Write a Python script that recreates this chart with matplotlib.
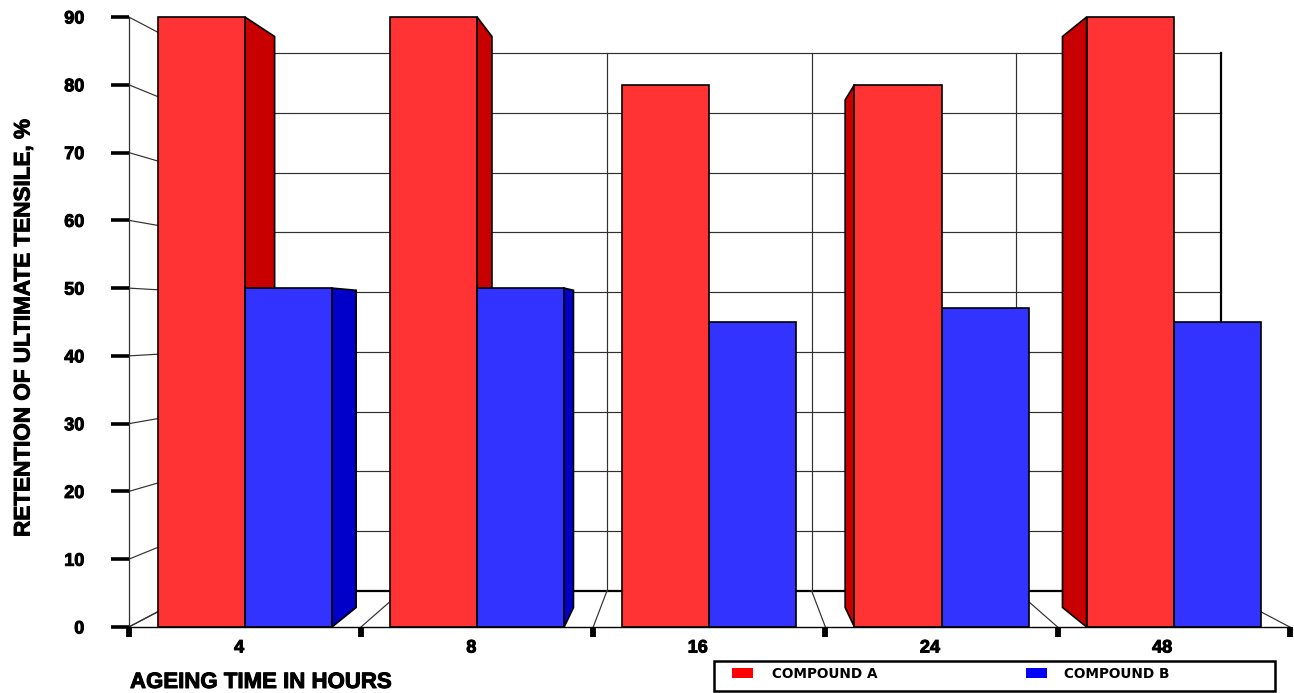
import matplotlib
matplotlib.use('Agg')
import matplotlib.pyplot as plt
import matplotlib.patheffects as pe
from matplotlib.patches import Polygon, Rectangle

# 老化后的拉伸强度保持率
hours = ['4', '8', '16', '24', '48']
compound_a = [90, 90, 80, 80, 90]
compound_b = [50, 50, 45, 47, 45]
y_ticks = [0, 10, 20, 30, 40, 50, 60, 70, 80, 90]

RED, RED_SIDE = '#FF3333', '#C80000'
BLUE, BLUE_SIDE = '#3333FF', '#0000C8'
BAR_W = 0.375
WALL_SCALE = 0.881  # back wall size relative to front plane
BAR_SCALE = 0.936   # back of the bars
W, H = 1294, 693

heavy = [pe.withStroke(linewidth=0.7, foreground='black')]


# 透视投影，消失点在图的中心
def project(x, v, scale):
    cx = len(hours) / 2
    cv = max(y_ticks) / 2
    return cx + (x - cx) * scale, cv + (v - cv) * scale


def draw_side(ax, edge, value, color):
    x0, v0 = project(edge, 0, BAR_SCALE)
    x1, v1 = project(edge, value, BAR_SCALE)
    ax.add_patch(Polygon([(edge, 0), (x0, v0), (x1, v1), (edge, value)], closed=True,
                         facecolor=color, edgecolor='black', linewidth=1.2, zorder=3,
                         clip_on=False))


def draw_walls(ax):
    n = len(hours)
    top = max(y_ticks)
    grid = dict(color='#303030', linewidth=0.85, zorder=1, clip_on=False)
    for v in y_ticks:
        bx0, bv = project(0, v, WALL_SCALE)
        bx1, _ = project(n, v, WALL_SCALE)
        ax.plot([0, bx0], [v, bv], **grid)
        if v == 0:
            ax.plot([bx0, bx1], [bv, bv], color='black', linewidth=1.6, zorder=1, clip_on=False)
        else:
            ax.plot([bx0, bx1], [bv, bv], **grid)
    for i in range(n + 1):
        bx, bv0 = project(i, 0, WALL_SCALE)
        _, bv1 = project(i, top, WALL_SCALE)
        ax.plot([i, bx], [0, bv0], **grid)
        if i == n:
            ax.plot([bx, bx], [bv0, bv1], color='black', linewidth=1.6, zorder=1, clip_on=False)
        else:
            ax.plot([bx, bx], [bv0, bv1], **grid)


def draw_legend(fig):
    fig.add_artist(Rectangle((714 / W, 1 - 690.5 / H), 561 / W, 30 / H, transform=fig.transFigure,
                             facecolor='white', edgecolor='black', linewidth=1.8))
    for x, color, label in [(732, '#FF0000', 'COMPOUND A'), (1026, '#0000FF', 'COMPOUND B')]:
        fig.add_artist(Rectangle((x / W, 1 - 678 / H), 21 / W, 10.5 / H, transform=fig.transFigure,
                                 facecolor=color, edgecolor='none'))
        fig.text((x + 38 + (x < 1000) * 2) / W, 1 - 673.5 / H, label, family='DejaVu Sans', weight='bold',
                 fontsize=9.8, va='center', ha='left', color='black')


fig = plt.figure(figsize=(W / 100, H / 100), dpi=100, facecolor='white')
ax = fig.add_axes([128.8 / W, 1 - 627 / H, (1290 - 129) / W, (627 - 17) / H])
ax.set_xlim(0, len(hours))
ax.set_ylim(0, max(y_ticks))
ax.patch.set_visible(False)
for s in ['top', 'right']:
    ax.spines[s].set_visible(False)
ax.spines['left'].set_linewidth(0.9)
ax.spines['left'].set_color('#303030')
ax.spines['bottom'].set_linewidth(1.0)
ax.spines['left'].set_zorder(1)
ax.spines['bottom'].set_zorder(5)

draw_walls(ax)

# 柱子的侧面：只有朝向中心的一面看得见
for i in range(len(hours)):
    a_left, a_right = i + 0.5 - BAR_W, i + 0.5
    b_right = i + 0.5 + BAR_W
    if a_right < len(hours) / 2 - 0.1:
        draw_side(ax, a_right, compound_a[i], RED_SIDE)
        draw_side(ax, b_right, compound_b[i], BLUE_SIDE)
    elif a_left > len(hours) / 2:
        draw_side(ax, a_left, compound_a[i], RED_SIDE)

xs = range(len(hours))
ax.bar([i + 0.5 - BAR_W / 2 for i in xs], compound_a, BAR_W, color=RED, edgecolor='black',
       linewidth=1.2, zorder=4, clip_on=False)
ax.bar([i + 0.5 + BAR_W / 2 for i in xs], compound_b, BAR_W, color=BLUE, edgecolor='black',
       linewidth=1.2, zorder=4, clip_on=False)

# 刻度
ax.set_yticks(y_ticks)
ax.set_yticklabels([str(v) for v in y_ticks])
ax.set_xticks(range(len(hours) + 1))
ax.set_xticklabels([])
ax.set_xticks([i + 0.5 - 0.025 * len(h) for i, h in enumerate(hours)], minor=True)
ax.set_xticklabels(hours, minor=True)
ax.tick_params(axis='y', length=13, width=2.6, color='black', pad=19)
ax.tick_params(axis='x', which='major', length=7, width=4.2, color='black')
ax.tick_params(axis='x', which='minor', length=0, pad=9)
for t in ax.get_yticklabels() + ax.get_xticklabels(minor=True):
    t.set_family('Liberation Sans')
    t.set_weight('bold')
    t.set_fontsize(13)
    t.set_path_effects(heavy)

fig.text(24 / W, 1 - 328 / H, 'RETENTION OF ULTIMATE TENSILE, %', rotation=90, va='center', ha='center',
         family='Liberation Sans', weight='bold', fontsize=16.2, path_effects=heavy)
fig.text(130 / W, 1 - 682.5 / H, 'AGEING TIME IN HOURS', va='center', ha='left',
         family='Liberation Sans', weight='bold', fontsize=16, path_effects=heavy)

draw_legend(fig)

fig.savefig('out.png', dpi=100, facecolor='white')
